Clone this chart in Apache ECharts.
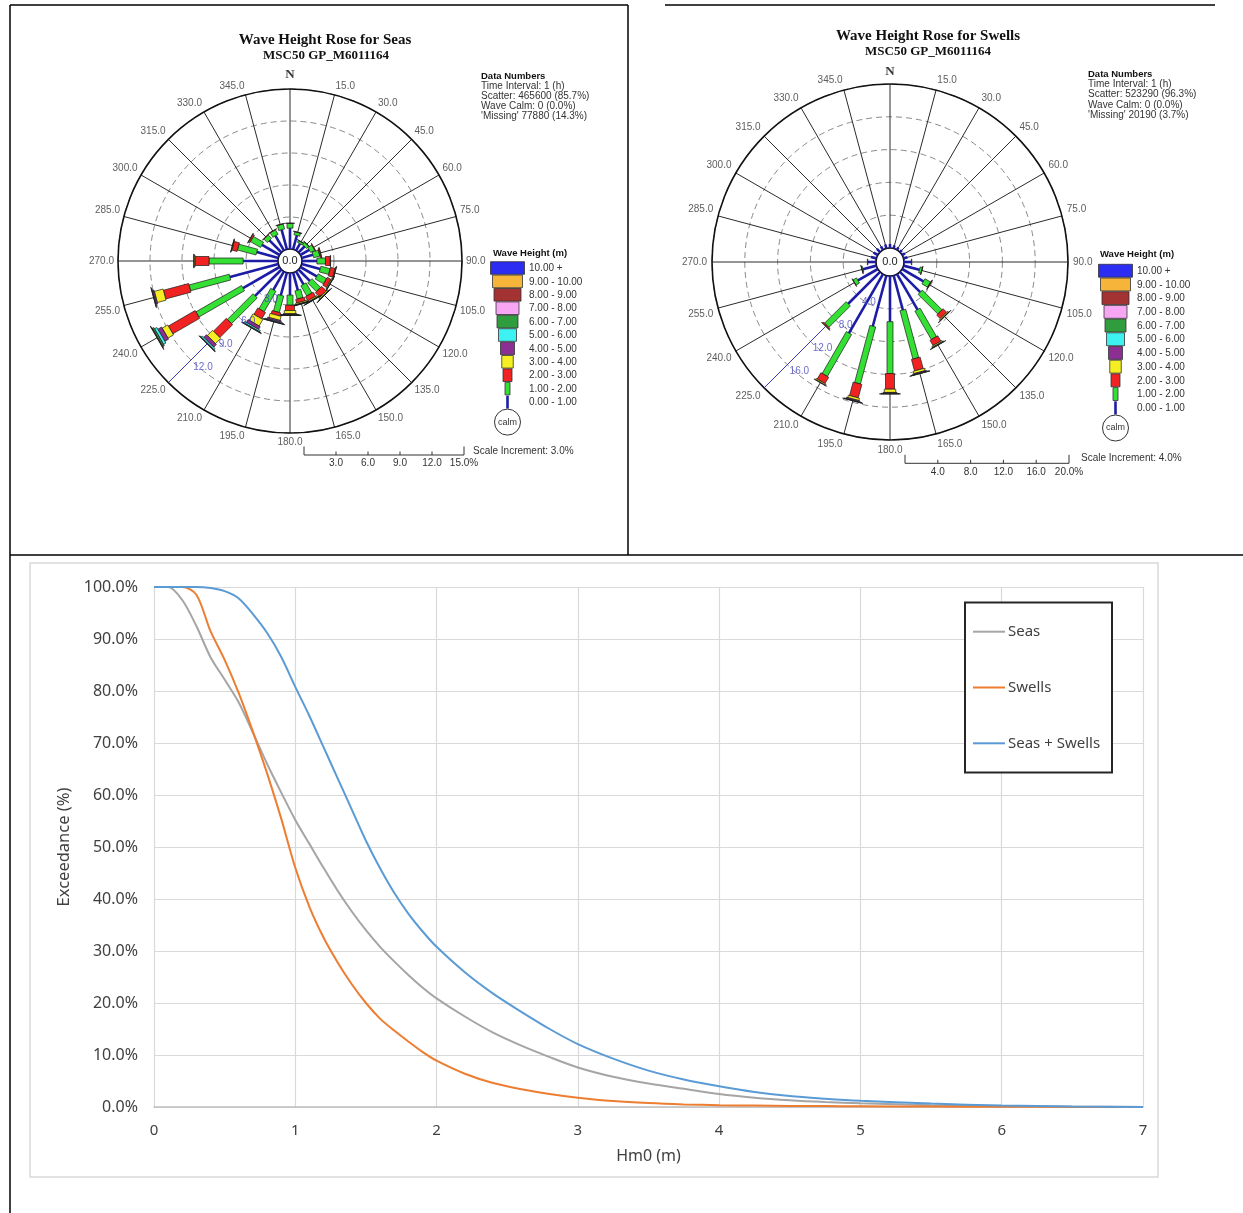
<!DOCTYPE html>
<html>
<head>
<meta charset="utf-8">
<script src="https://cdn.jsdelivr.net/npm/echarts@6/dist/echarts.min.js"></script>
<style>
html,body{margin:0;padding:0;background:#fff;}
#c{width:1243px;height:1213px;}
</style>
</head>
<body>
<div id="c"></div>
<script>
// ---------------- DATA ----------------
const directions = [0,15,30,45,60,75,90,105,120,135,150,165,180,195,210,225,240,255,270,285,300,315,330,345];
const angleTicks = [0,15,30,45,60,75,90,105,120,135,150,165,180,195,210,225,240,255,270,285,300,315,330,345];
const classLabels = ['0.00 - 1.00','1.00 - 2.00','2.00 - 3.00','3.00 - 4.00','4.00 - 5.00','5.00 - 6.00','6.00 - 7.00','7.00 - 8.00','8.00 - 9.00','9.00 - 10.00','10.00 +'];

// Seas: percentage of time per direction, per wave-height class
const seas_00_01 = [1.95,1.35,0.75,0.80,0.95,1.10,1.40,1.80,1.77,1.50,1.40,1.70,2.07,2.20,2.00,3.50,3.96,4.70,3.27,2.10,1.90,1.60,1.60,1.90];
const seas_01_02 = [0.45,0.30,0.20,0.30,0.45,0.60,0.80,0.90,0.90,1.15,1.10,0.80,0.95,1.60,2.20,3.40,4.94,3.90,3.20,1.80,1.10,0.45,0.50,0.50];
const seas_02_03 = [0.03,0.02,0.02,0.02,0.05,0.12,0.45,0.45,0.40,0.60,0.45,0.35,0.50,0.30,0.70,1.70,2.90,2.45,1.30,0.50,0.15,0.05,0.03,0.03];
const seas_03_04 = [0,0,0,0,0,0.02,0.03,0.06,0.10,0.12,0.12,0.12,0.30,0.40,0.70,0.70,0.60,0.85,0.10,0.05,0.02,0,0,0];
const seas_04_05 = [0,0,0,0,0,0,0,0.02,0.03,0.04,0.04,0.04,0.08,0.15,0.30,0.35,0.40,0.15,0.03,0.02,0,0,0,0];
const seas_05_06 = [0,0,0,0,0,0,0,0,0.02,0.02,0.02,0.02,0.04,0.08,0.15,0.15,0.25,0.05,0,0,0,0,0,0];
const seas_06_07 = [0,0,0,0,0,0,0,0,0,0.02,0.02,0.02,0.02,0.03,0.05,0.05,0.15,0.02,0,0,0,0,0,0];
const seas_07_08 = [0,0,0,0,0,0,0,0,0,0,0,0,0.02,0.02,0.02,0.02,0.05,0,0,0,0,0,0,0];
const seas_08_09 = [0,0,0,0,0,0,0,0,0,0,0,0,0,0,0,0,0.03,0,0,0,0,0,0,0];
const seas_09_10 = [0,0,0,0,0,0,0,0,0,0,0,0,0,0,0,0,0,0,0,0,0,0,0,0];
const seas_10_up = [0,0,0,0,0,0,0,0,0,0,0,0,0,0,0,0,0,0,0,0,0,0,0,0];

// Swells
const swell_00_01 = [0.50,0.40,0.35,0.35,0.40,0.50,0.90,2.00,3.00,3.50,5.00,4.35,5.57,6.40,8.30,5.50,2.80,1.70,1.00,0.70,0.60,0.55,0.50,0.50];
const swell_01_02 = [0,0,0,0,0,0,0.05,0.30,0.80,3.40,4.00,6.10,6.33,7.20,5.90,3.70,0.50,0.12,0.05,0,0,0,0,0];
const swell_02_03 = [0,0,0,0,0,0,0,0.02,0.06,0.60,0.75,1.45,1.90,1.70,0.90,0.15,0.03,0.02,0,0,0,0,0,0];
const swell_03_04 = [0,0,0,0,0,0,0,0,0.02,0.15,0.15,0.30,0.40,0.30,0.15,0.05,0,0,0,0,0,0,0,0];
const swell_04_05 = [0,0,0,0,0,0,0,0,0,0.05,0.08,0.12,0.12,0.15,0.05,0,0,0,0,0,0,0,0,0];
const swell_05_06 = [0,0,0,0,0,0,0,0,0,0.02,0.03,0.05,0.05,0.05,0,0,0,0,0,0,0,0,0,0];
const swell_06_07 = [0,0,0,0,0,0,0,0,0,0,0,0.02,0.02,0.02,0,0,0,0,0,0,0,0,0,0];
const swell_07_08 = [0,0,0,0,0,0,0,0,0,0,0,0,0,0,0,0,0,0,0,0,0,0,0,0];
const swell_08_09 = [0,0,0,0,0,0,0,0,0,0,0,0,0,0,0,0,0,0,0,0,0,0,0,0];
const swell_09_10 = [0,0,0,0,0,0,0,0,0,0,0,0,0,0,0,0,0,0,0,0,0,0,0,0];
const swell_10_up = [0,0,0,0,0,0,0,0,0,0,0,0,0,0,0,0,0,0,0,0,0,0,0,0];

const seasScaleTicks = [3, 6, 9, 12, 15];
const swellScaleTicks = [4, 8, 12, 16, 20];

const seasInfo = ['Time Interval: 1 (h)', 'Scatter: 465600 (85.7%)', 'Wave Calm: 0 (0.0%)', "'Missing' 77880 (14.3%)"];
const swellInfo = ['Time Interval: 1 (h)', 'Scatter: 523290 (96.3%)', 'Wave Calm: 0 (0.0%)', "'Missing' 20190 (3.7%)"];

// Exceedance curves
const hm0 = [0,0.1,0.2,0.3,0.4,0.5,0.6,0.7,0.8,0.9,1.0,1.1,1.2,1.3,1.4,1.5,1.6,1.7,1.8,1.9,2.0,2.2,2.4,2.6,2.8,3.0,3.25,3.5,3.75,4.0,4.25,4.5,4.75,5.0,5.5,6.0,6.5,7.0];
const exceedSeas = [100,100,97.5,92.5,86.5,82.2,77.8,72.0,66.0,60.5,55.2,50.6,46.0,41.6,37.6,34.0,30.8,28.0,25.4,23.0,20.9,17.4,14.3,11.8,9.6,7.6,5.8,4.5,3.5,2.5,1.8,1.3,0.95,0.7,0.35,0.15,0.05,0];
const exceedSwells = [100,100,100,98.5,91.5,86.0,79.6,72.2,64.2,55.5,46.0,38.5,32.6,27.8,23.6,20.0,17.0,14.7,12.6,10.6,8.9,6.4,4.6,3.4,2.5,1.8,1.15,0.75,0.5,0.35,0.27,0.2,0.17,0.14,0.09,0.05,0.02,0];
const exceedTotal = [100,100,100,100,99.8,99.2,97.8,94.8,91.2,86.6,80.8,75.2,69.2,63.2,57.2,51.2,45.9,41.2,37.2,33.8,30.8,25.9,21.8,18.3,15.0,12.1,9.3,7.0,5.3,4.0,2.9,2.1,1.6,1.2,0.65,0.3,0.12,0];

// ---------------- STYLE ----------------
const CLASS_COLORS = ['#1c1ca6','#33e033','#f02222','#f5ee22','#8b2f92','#3ef2f2','#2f9c3e','#f6a6f2','#a33232','#f6b43a','#2c2cf2'];
const CLASS_WIDTHS = [2.6, 6, 9, 11.5, 14, 18, 21, 23, 27, 30, 34];
const SANS = '"Liberation Sans", Arial, sans-serif';
const SERIF = '"Liberation Serif", "Times New Roman", serif';
const XL = '"Noto Sans", "Open Sans", sans-serif';

const seasClasses = [seas_00_01,seas_01_02,seas_02_03,seas_03_04,seas_04_05,seas_05_06,seas_06_07,seas_07_08,seas_08_09,seas_09_10,seas_10_up];
const swellClasses = [swell_00_01,swell_01_02,swell_02_03,swell_03_04,swell_04_05,swell_05_06,swell_06_07,swell_07_08,swell_08_09,swell_09_10,swell_10_up];

const ROSES = [
  {center:[290,261], radius:[12,172], max:15, inc:3, classes:seasClasses, ticks:seasScaleTicks,
   title:'Wave Height Rose for Seas', titleXY:[325,40], subXY:[326,56], info:seasInfo, infoXY:[481,76.7], infoStep:10,
   legend:{cx:507.5, top:261.7, step:13.4, textX:529, titleXY:[493,253]},
   bar:{x0:304, y:455}, incXY:[473,451], labelMargin:4, nMargin:8},
  {center:[890,262], radius:[14,178], max:20, inc:4, classes:swellClasses, ticks:swellScaleTicks,
   title:'Wave Height Rose for Swells', titleXY:[928,36], subXY:[928,52], info:swellInfo, infoXY:[1088,74], infoStep:10.3,
   legend:{cx:1115.5, top:264.3, step:13.7, textX:1137, titleXY:[1100,254]},
   bar:{x0:905, y:463.3}, incXY:[1081,458], labelMargin:5, nMargin:6}
];

function roseRenderer(classes) {
  return function (params, api) {
    const i = params.dataIndex;
    const ang = api.value(0);
    const a = api.coord([0, ang]);
    const b = api.coord([1, ang]);
    let ux = b[0] - a[0], uy = b[1] - a[1];
    const len = Math.hypot(ux, uy) || 1;
    ux /= len; uy /= len;
    const nx = -uy, ny = ux;
    let cum = 0;
    const children = [];
    classes.forEach(function (arr, k) {
      const v = arr[i];
      if (!v) return;
      const p0 = api.coord([cum, ang]);
      cum += v;
      const p1 = api.coord([cum, ang]);
      const h = CLASS_WIDTHS[k] / 2;
      children.push({
        type: 'polygon',
        shape: {points: [
          [p0[0] + nx*h, p0[1] + ny*h], [p1[0] + nx*h, p1[1] + ny*h],
          [p1[0] - nx*h, p1[1] - ny*h], [p0[0] - nx*h, p0[1] - ny*h]]},
        style: k === 0 ? {fill: CLASS_COLORS[0]} : {fill: CLASS_COLORS[k], stroke: '#1a1a1a', lineWidth: 0.7}
      });
    });
    return {type: 'group', children: children};
  };
}

function txt(x, y, text, font, extra) {
  return {type:'text', x:x, y:y, silent:true, z: 20,
    style: Object.assign({text:text, font:font, fill:'#222', textAlign:'left', verticalAlign:'middle'}, (extra||{}))};
}
function line(x1, y1, x2, y2, color, w, z) {
  return {type:'line', silent:true, z: z||0, shape:{x1:x1,y1:y1,x2:x2,y2:y2}, style:{stroke:color, lineWidth:w}};
}

const polar = [], angleAxis = [], radiusAxis = [], series = [], graphic = [];

ROSES.forEach(function (R, pi) {
  polar.push({center: R.center, radius: R.radius});
  angleAxis.push({
    polarIndex: pi, type: 'value', min: 0, max: 360, interval: 15, startAngle: 90, clockwise: true, z: 2,
    axisLine: {show: true, lineStyle: {color: '#111', width: 1.6}},
    axisTick: {show: false},
    splitLine: {show: true, lineStyle: {color: '#2a2a2a', width: 1}},
    axisLabel: {show: false}
  });
  radiusAxis.push({
    polarIndex: pi, type: 'value', min: 0, max: R.max, interval: R.inc, z: 1,
    axisLine: {show: false}, axisTick: {show: false}, axisLabel: {show: false},
    splitLine: {show: true, lineStyle: {color: '#8a8a8a', width: 1, type: [6, 4]}}
  });
  // direction labels just outside the outer ring
  series.push({
    type: 'scatter', coordinateSystem: 'polar', polarIndex: pi, silent: true, z: 6,
    symbolSize: 1, itemStyle: {color: 'rgba(0,0,0,0)'},
    data: angleTicks.map(function (a) {
      const s = Math.sin(a * Math.PI / 180), c = Math.cos(a * Math.PI / 180);
      const m = a === 0 ? R.nMargin : R.labelMargin;
      return {value: [R.max, a], label: {
        align: Math.abs(s) < 0.01 ? 'center' : (s > 0 ? 'left' : 'right'),
        verticalAlign: Math.abs(c) < 0.01 ? 'middle' : (c > 0 ? 'bottom' : 'top'),
        offset: [m * s, -m * c]}};
    }),
    label: {show: true, position: 'inside', color: '#333', fontSize: 10, fontFamily: SANS,
      formatter: function (p) { return p.value[1] === 0 ? '{n|N}' : p.value[1].toFixed(1); },
      rich: {n: {fontFamily: SERIF, fontWeight: 'bold', fontSize: 13, color: '#000'}}}
  });
  // scale line along 225 deg
  series.push({
    type: 'line', coordinateSystem: 'polar', polarIndex: pi, silent: true, z: 3,
    symbol: 'none', data: [[0, 225], [R.max, 225]],
    lineStyle: {color: '#3c3cb4', width: 1}
  });
  series.push({
    type: 'custom', coordinateSystem: 'polar', polarIndex: pi, silent: true, z: 5,
    dimensions: ['angle', 'total'], encode: {angle: 0, radius: 1},
    data: directions.map(function (d, i) {
      let t = 0; R.classes.forEach(function (arr) { t += arr[i]; });
      return [d, t];
    }),
    renderItem: roseRenderer(R.classes)
  });
  series.push({
    type: 'scatter', coordinateSystem: 'polar', polarIndex: pi, silent: true, z: 6,
    symbolSize: 1, itemStyle: {color: 'rgba(0,0,0,0)'},
    data: R.ticks.slice(0, -1).map(function (v) { return [v, 225]; }),
    label: {show: true, position: 'inside', offset: [12, 7], color: '#4646c4', fontSize: 10, fontFamily: SANS,
      formatter: function (p) { return p.value[0].toFixed(1); }}
  });

  // titles
  graphic.push(txt(R.titleXY[0], R.titleXY[1], R.title, 'bold 15px ' + SERIF, {textAlign:'center', fill:'#111'}));
  graphic.push(txt(R.subXY[0], R.subXY[1], 'MSC50 GP_M6011164', 'bold 13px ' + SERIF, {textAlign:'center', fill:'#111'}));
  // calm label in centre
  graphic.push(txt(R.center[0], R.center[1], '0.0', '11px ' + SANS, {textAlign:'center', fill:'#222'}));
  // data numbers
  graphic.push(txt(R.infoXY[0], R.infoXY[1], 'Data Numbers', 'bold 9.5px ' + SANS, {fill:'#111'}));
  R.info.forEach(function (s, k) {
    graphic.push(txt(R.infoXY[0], R.infoXY[1] + R.infoStep * (k + 1), s, '10px ' + SANS, {fill:'#333'}));
  });
  // legend
  const L = R.legend;
  graphic.push(txt(L.titleXY[0], L.titleXY[1], 'Wave Height (m)', 'bold 9.5px ' + SANS, {fill:'#111'}));
  for (let row = 0; row < 10; row++) {
    const k = 10 - row;
    const ww = k === 1 ? 5 : CLASS_WIDTHS[k];
    const y = L.top + row * L.step;
    graphic.push({type:'rect', silent:true, shape:{x: L.cx - ww/2, y: y, width: ww, height: L.step - 0.8},
      style:{fill: CLASS_COLORS[k], stroke:'#333', lineWidth:0.8}});
    graphic.push(txt(L.textX, y + L.step/2, classLabels[k], '10px ' + SANS, {fill:'#333'}));
  }
  const lineTop = L.top + 10 * L.step;
  graphic.push(line(L.cx, lineTop, L.cx, lineTop + L.step - 0.5, CLASS_COLORS[0], 2.6));
  graphic.push(txt(L.textX, lineTop + L.step/2, classLabels[0], '10px ' + SANS, {fill:'#333'}));
  const calmY = lineTop + L.step + 13;
  graphic.push({type:'circle', silent:true, shape:{cx: L.cx, cy: calmY, r: 13}, style:{fill:'#fff', stroke:'#333', lineWidth:1}});
  graphic.push(txt(L.cx, calmY, 'calm', '9px ' + SANS, {textAlign:'center', fill:'#333'}));

  // scale bar
  const k = (R.radius[1] - R.radius[0]) / R.max;
  const B = R.bar;
  const xEnd = B.x0 + k * R.max;
  graphic.push(line(B.x0, B.y, xEnd, B.y, '#333', 1));
  graphic.push(line(B.x0, B.y - 8.5, B.x0, B.y, '#333', 1));
  R.ticks.forEach(function (v, j) {
    const x = B.x0 + k * v;
    const last = j === R.ticks.length - 1;
    graphic.push(line(x, last ? B.y - 8.5 : B.y - 3.5, x, B.y, '#333', 1));
    graphic.push(txt(x, B.y + 8.5, v.toFixed(1) + (last ? '%' : ''), '10px ' + SANS, {textAlign:'center', fill:'#333'}));
  });
  graphic.push(txt(R.incXY[0], R.incXY[1], 'Scale Increment: ' + R.inc.toFixed(1) + '%', '10px ' + SANS, {fill:'#333'}));
});

// page frame
graphic.push(line(10, 5, 10, 1213, '#000', 1.5));
graphic.push(line(10, 5, 628, 5, '#000', 1.5));
graphic.push(line(665, 5, 1215, 5, '#000', 1.5));
graphic.push(line(628, 5, 628, 555, '#000', 1.5));
graphic.push(line(10, 555, 1243, 555, '#000', 1.5));
// exceedance chart border and legend box
graphic.push({type:'rect', silent:true, z:0, shape:{x:30, y:563, width:1128, height:614}, style:{fill:null, stroke:'#d9d9d9', lineWidth:1.5}});
graphic.push({type:'rect', silent:true, z:15, shape:{x:965, y:602.5, width:147, height:170}, style:{fill:'#fff', stroke:'#262626', lineWidth:2}});

// exceedance line series
const lineDefs = [
  {name:'Seas', data: exceedSeas, color:'#a5a5a5'},
  {name:'Swells', data: exceedSwells, color:'#ed7d31'},
  {name:'Seas + Swells', data: exceedTotal, color:'#5b9bd5'}
];
lineDefs.forEach(function (d, j) {
  series.push({
    name: d.name, type: 'line', xAxisIndex: 0, yAxisIndex: 0, symbol: 'none', showSymbol: false,
    smooth: 0.3, z: 3,
    lineStyle: {color: d.color, width: 2}, itemStyle: {color: d.color},
    data: hm0.map(function (x, i) { return [x, d.data[i]]; })
  });
  const ly = 631.7 + j * 55.8;
  graphic.push(line(973, ly, 1005, ly, d.color, 2, 20));
  graphic.push(txt(1008, ly, d.name, '15px ' + XL, {fill:'#404040'}));
});

const option = {
  animation: false,
  backgroundColor: '#fff',
  polar: polar, angleAxis: angleAxis, radiusAxis: radiusAxis,
  grid: [{left: 154, right: 100, top: 587, bottom: 106}],
  xAxis: [{
    type: 'value', min: 0, max: 7, interval: 1, gridIndex: 0,
    name: 'Hm0 (m)', nameLocation: 'middle', nameGap: 41,
    nameTextStyle: {fontSize: 16, color: '#404040', fontFamily: XL},
    axisLine: {show: true, lineStyle: {color: '#bfbfbf', width: 1.5}},
    axisTick: {show: false},
    axisLabel: {margin: 16, fontSize: 15, color: '#404040', fontFamily: XL},
    splitLine: {show: true, lineStyle: {color: '#d9d9d9', width: 1.2}}
  }],
  yAxis: [{
    type: 'value', min: 0, max: 100, interval: 10, gridIndex: 0,
    name: 'Exceedance (%)', nameLocation: 'middle', nameGap: 76, nameRotate: 90,
    nameTextStyle: {fontSize: 16.5, color: '#404040', fontFamily: XL},
    axisLine: {show: false}, axisTick: {show: false},
    axisLabel: {margin: 16, fontSize: 16, color: '#404040', fontFamily: XL,
      formatter: function (v) { return v.toFixed(1) + '%'; }},
    splitLine: {show: true, lineStyle: {color: '#d9d9d9', width: 1.2}}
  }],
  graphic: {elements: graphic},
  series: series
};

const chart = echarts.init(document.getElementById('c'));
chart.setOption(option);
</script>
</body>
</html>
